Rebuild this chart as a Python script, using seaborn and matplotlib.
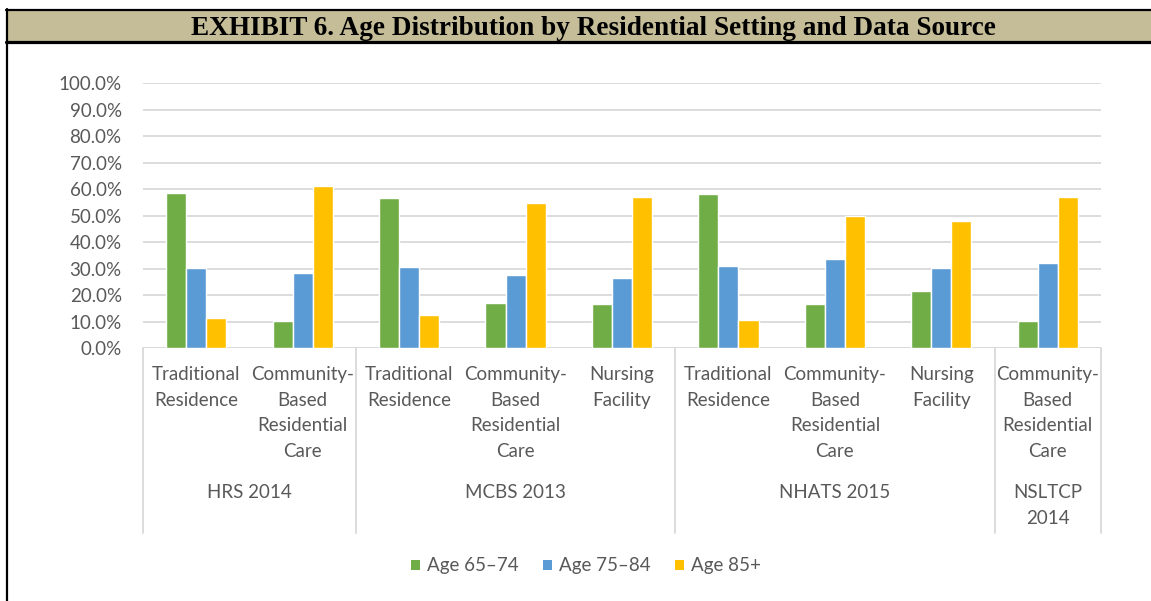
import matplotlib
matplotlib.use("Agg")
import matplotlib.pyplot as plt
import matplotlib.transforms as mtransforms
from matplotlib.patches import Rectangle, Patch
from matplotlib.lines import Line2D
from matplotlib.ticker import FuncFormatter, MultipleLocator
import pandas as pd
import seaborn as sns

# ---- data -------------------------------------------------------------
title = "EXHIBIT 6. Age Distribution by Residential Setting and Data Source"

sources = ["HRS 2014", "MCBS 2013", "NHATS 2015", "NSLTCP 2014"]
source_labels = ["HRS 2014", "MCBS 2013", "NHATS 2015", "NSLTCP\n2014"]

category_source = ["HRS 2014", "HRS 2014",
                   "MCBS 2013", "MCBS 2013", "MCBS 2013",
                   "NHATS 2015", "NHATS 2015", "NHATS 2015",
                   "NSLTCP 2014"]
category_setting = ["Traditional Residence", "Community-Based Residential Care",
                    "Traditional Residence", "Community-Based Residential Care", "Nursing Facility",
                    "Traditional Residence", "Community-Based Residential Care", "Nursing Facility",
                    "Community-Based Residential Care"]
setting_labels = {
    "Traditional Residence": "Traditional\nResidence",
    "Community-Based Residential Care": "Community-\nBased\nResidential\nCare",
    "Nursing Facility": "Nursing\nFacility",
}

age_groups = ["Age 65\u201374", "Age 75\u201384", "Age 85+"]
age_65_74 = [58.7, 10.4, 56.8, 17.2, 16.6, 58.1, 16.6, 21.7, 10.4]
age_75_84 = [30.2, 28.3, 30.8, 27.7, 26.4, 31.1, 33.7, 30.4, 32.3]
age_85_plus = [11.3, 61.4, 12.6, 55.0, 57.2, 10.7, 49.9, 48.2, 57.0]

colors = ["#70AD47", "#5B9BD5", "#FFC000"]

# ---- long-form table ----------------------------------------------------
keys = [f"{s} | {c}" for s, c in zip(category_source, category_setting)]
rows = []
for group, vals in zip(age_groups, [age_65_74, age_75_84, age_85_plus]):
    for k, v in zip(keys, vals):
        rows.append({"category": k, "age": group, "share": v})
df = pd.DataFrame(rows)

# ---- figure -------------------------------------------------------------
sns.set_theme(style="white")
plt.rcParams["font.family"] = ["Lato", "DejaVu Sans"]
TXT = "#595959"
GRID = "#D9D9D9"
FS = 13.5

W, H = 1151, 601
fig = plt.figure(figsize=(W / 100, H / 100), dpi=100)
fig.patch.set_facecolor("white")


def fy(px):
    return 1 - px / H


def fx(px):
    return px / W


ax = fig.add_axes([fx(143), fy(348.3), fx(1101) - fx(143), fy(83.3) - fy(348.3)])

sns.barplot(data=df, x="category", y="share", hue="age", order=keys,
            hue_order=age_groups, palette=colors, saturation=1,
            width=0.565, gap=0, errorbar=None, ax=ax, legend=False)

ax.set_ylim(0, 100)
ax.set_xlim(-0.5, len(keys) - 0.5)
ax.yaxis.set_major_locator(MultipleLocator(10))
ax.yaxis.set_major_formatter(FuncFormatter(lambda v, _: f"{v:.1f}%"))
ax.tick_params(axis="y", length=0, pad=15.3, labelsize=FS, labelcolor=TXT)
ax.tick_params(axis="x", length=0)
ax.set_xticklabels([])
ax.set_xlabel("")
ax.set_ylabel("")
ax.grid(axis="y", color=GRID, linewidth=1.3)
ax.grid(axis="x", visible=False)
ax.set_axisbelow(True)
for sp in ax.spines.values():
    sp.set_visible(False)
ax.axhline(0, color=GRID, linewidth=1.3, zorder=0.5)

# ---- category labels, group labels and separators ----------------------
tr = mtransforms.blended_transform_factory(ax.transData, fig.transFigure)
line_step = 25.6
first_base = 380
for i, setting in enumerate(category_setting):
    for j, line in enumerate(setting_labels[setting].split("\n")):
        ax.text(i, fy(first_base + j * line_step), line, transform=tr,
                ha="center", va="baseline", fontsize=FS, color=TXT, clip_on=False)

group_base = 498
bounds = [-0.5]
for src, lab in zip(sources, source_labels):
    idx = [i for i, s in enumerate(category_source) if s == src]
    xc = sum(idx) / len(idx)
    for j, line in enumerate(lab.split("\n")):
        ax.text(xc, fy(group_base + j * line_step), line, transform=tr,
                ha="center", va="baseline", fontsize=FS, color=TXT, clip_on=False)
    bounds.append(max(idx) + 0.5)

for b in bounds:
    ax.add_line(Line2D([b, b], [fy(348.3), fy(533)], transform=tr,
                       color=GRID, linewidth=1.3, clip_on=False))

# ---- legend -------------------------------------------------------------
handles = [Patch(facecolor=c, edgecolor="none", label=g) for c, g in zip(colors, age_groups)]
leg = fig.legend(handles=handles, loc="center", bbox_to_anchor=(fx(586), fy(566)),
                 ncol=3, frameon=False, fontsize=FS, handlelength=0.5,
                 handleheight=0.5, handletextpad=0.37, columnspacing=1.28)
for t in leg.get_texts():
    t.set_color(TXT)

# ---- exhibit frame and title band --------------------------------------
fig.add_artist(Rectangle((fx(6), fy(41.5)), 1 - fx(6), fy(10) - fy(41.5),
                         transform=fig.transFigure, facecolor="#C4BD97",
                         edgecolor="none", zorder=1))
fig.add_artist(Line2D([fx(6), 1], [fy(10), fy(10)], transform=fig.transFigure,
                      color="black", linewidth=1.6, zorder=2))
fig.add_artist(Line2D([fx(6), 1], [fy(41.8), fy(41.8)], transform=fig.transFigure,
                      color="black", linewidth=2.3, zorder=2))
fig.add_artist(Line2D([fx(7), fx(7)], [fy(9), 0], transform=fig.transFigure,
                      color="black", linewidth=1.6, zorder=2))
fig.text(fx(593), fy(35), title, ha="center", va="baseline",
         fontsize=19.6, fontweight="bold", family="Liberation Serif",
         color="black", zorder=3)

fig.savefig("out.png", dpi=100)
